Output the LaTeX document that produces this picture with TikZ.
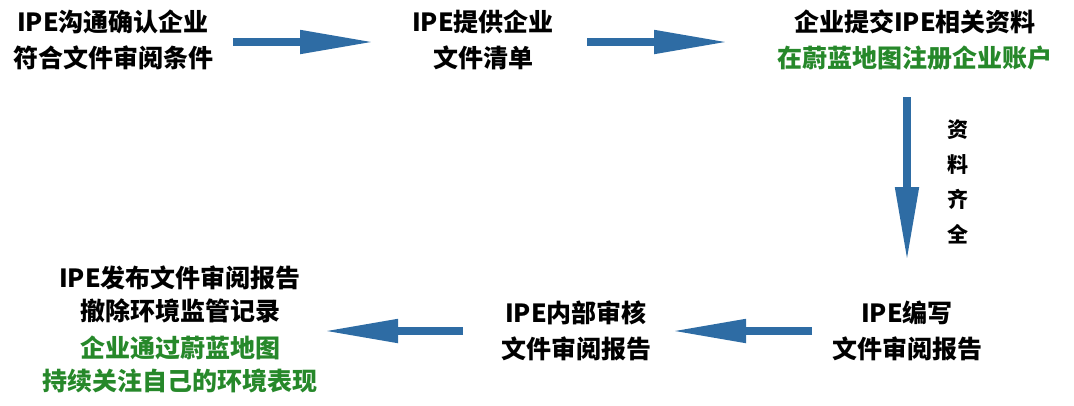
\documentclass[tikz,border=0pt]{standalone}
\usepackage{fontspec}
\setmainfont{Noto Sans CJK SC}
\usetikzlibrary{arrows.meta}
\definecolor{arrowblue}{RGB}{46,108,164}
\definecolor{txtgreen}{RGB}{38,136,42}
\tikzset{
  stepbox/.style={align=center, inner sep=0pt, font=\fontsize{25}{36}\selectfont\bfseries},
  bigarrow/.style={arrowblue, line width=8pt, -{Triangle[length=75pt,width=22pt]}},
  vlabel/.style={align=center, inner sep=0pt, font=\fontsize{21}{35}\selectfont\bfseries}
}
\begin{document}
\begin{tikzpicture}[x=1pt,y=-1pt]
\useasboundingbox (0,0) rectangle (1074,405);
% nodes
\node[stepbox] (n1) at (113,40) {IPE沟通确认企业\\符合文件审阅条件};
\node[stepbox] (n2) at (483,40) {IPE提供企业\\文件清单};
\node[stepbox] (n3) at (915,40) {企业提交IPE相关资料\\\textcolor{txtgreen}{在蔚蓝地图注册企业账户}};
\node[stepbox] (n4) at (907,331) {IPE编写\\文件审阅报告};
\node[stepbox] (n5) at (576,331) {IPE内部审核\\文件审阅报告};
\node[stepbox, font=\fontsize{25}{33}\selectfont\bfseries] (n6) at (180,329) {IPE发布文件审阅报告\\撤除环境监管记录\\[4pt]\textcolor{txtgreen}{企业通过蔚蓝地图}\\\textcolor{txtgreen}{持续关注自己的环境表现}};
\node[vlabel] (lab) at (958,182) {资\\料\\齐\\全};
% arrow endpoints
\coordinate (a1s) at (233,42);
\coordinate (a1e) at (375,42);
\coordinate (a2s) at (587,42);
\coordinate (a2e) at (729,42);
\coordinate (a3s) at (907,97);
\coordinate (a3e) at (907,262);
\coordinate (a4s) at (812,331);
\coordinate (a4e) at (671,331);
\coordinate (a5s) at (463,331);
\coordinate (a5e) at (323,331);
\draw[bigarrow] (a1s) -- (a1e);
\draw[bigarrow] (a2s) -- (a2e);
\draw[bigarrow] (a3s) -- (a3e);
\draw[bigarrow] (a4s) -- (a4e);
\draw[bigarrow] (a5s) -- (a5e);
\end{tikzpicture}
\end{document}
